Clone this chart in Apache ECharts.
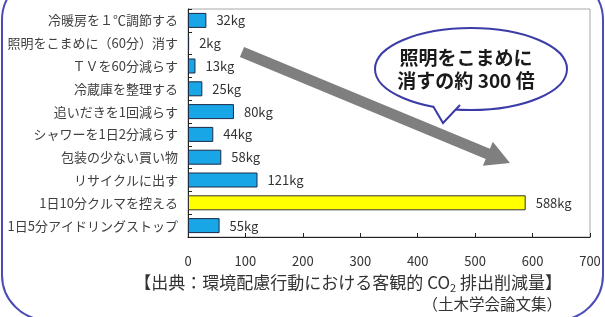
<!DOCTYPE html>
<html>
<head>
<meta charset="utf-8">
<script src="https://cdn.jsdelivr.net/npm/echarts@6/dist/echarts.min.js"></script>
<style>
    html,body{margin:0;padding:0;background:#fff;}
    #main{width:605px;height:317px;}
</style>
</head>
<body>
<div id="main"></div>
<script>
// 行動ごとの CO2 削減量 (kg/年)
var categories = ['冷暖房を１℃調節する', '照明をこまめに（60分）消す', 'ＴＶを60分減らす', '冷蔵庫を整理する',
    '追いだきを1回減らす', 'シャワーを1日2分減らす', '包装の少ない買い物', 'リサイクルに出す',
    '1日10分クルマを控える', '1日5分アイドリングストップ'];
var values = [32, 2, 13, 25, 80, 44, 58, 121, 588, 55];
var highlight = '1日10分クルマを控える';
var xTicks = [0, 100, 200, 300, 400, 500, 600, 700];

var font = '"Noto Sans CJK JP", "Noto Sans", sans-serif';
var chart = echarts.init(document.getElementById('main'));

// 矢印 (装飾)
var tail = [242, 52], tip = [510, 163];
var dx = tip[0] - tail[0], dy = tip[1] - tail[1];
var len = Math.sqrt(dx * dx + dy * dy);
var ux = dx / len, uy = dy / len, nx = -uy, ny = ux;
var bx = tip[0] - 24 * ux, by = tip[1] - 24 * uy;
var arrowPts = [
    [tail[0] + 5.5 * nx, tail[1] + 5.5 * ny],
    [bx + 5.5 * nx, by + 5.5 * ny],
    [bx + 13 * nx, by + 13 * ny],
    tip,
    [bx - 13 * nx, by - 13 * ny],
    [bx - 5.5 * nx, by - 5.5 * ny],
    [tail[0] - 5.5 * nx, tail[1] - 5.5 * ny]
];

var option = {
    animation: false,
    textStyle: {fontFamily: font},
    grid: {
        left: 188, right: 15, top: 9, bottom: 80,
        show: true, borderColor: '#a8a8a8', borderWidth: 1, backgroundColor: 'transparent'
    },
    xAxis: {
        type: 'value', min: 0, max: 700, interval: 100,
        axisLine: {show: true, lineStyle: {color: '#222', width: 1}},
        axisTick: {show: true, inside: true, length: 4, lineStyle: {color: '#222'}},
        axisLabel: {color: '#333', fontSize: 13, margin: 18, fontFamily: font,
            formatter: function (v) { return xTicks.indexOf(v) >= 0 ? String(v) : ''; }},
        splitLine: {show: false}
    },
    yAxis: {
        type: 'category', inverse: true, data: categories,
        axisLine: {show: true, lineStyle: {color: '#222', width: 1}},
        axisTick: {show: true, inside: true, length: 4, lineStyle: {color: '#222'}},
        axisLabel: {color: '#404040', fontSize: 13, margin: 10, fontFamily: font}
    },
    series: [{
        type: 'bar',
        barWidth: 15,
        data: values.map(function (v, i) {
            var hot = categories[i] === highlight;
            return {
                value: v,
                itemStyle: {
                    color: hot ? '#ffff00' : '#19a6e6',
                    borderColor: hot ? '#333' : '#1c2a48',
                    borderWidth: 1
                }
            };
        }),
        label: {
            show: true, position: 'right', distance: 10,
            color: '#333', fontSize: 13, fontFamily: font,
            formatter: '{c}kg'
        }
    }],
    title: [{
        right: 38, top: 268,
        text: '{a|【出典：環境配慮行動における客観的 CO}{s|2}{a| 排出削減量】}',
        textStyle: {
            fontWeight: 'normal',
            rich: {
                a: {fontSize: 17, color: '#333', fontWeight: 'normal', fontFamily: font},
                s: {fontSize: 11, color: '#333', fontWeight: 'normal', fontFamily: font, padding: [9, 0, 0, 0]}
            }
        }
    }, {
        right: 38, top: 291,
        text: '（土木学会論文集）',
        textStyle: {fontSize: 15.5, fontWeight: 'normal', color: '#333', fontFamily: font}
    }],
    graphic: [
        {
            type: 'rect', silent: true, z: -1,
            shape: {x: 2, y: -25, width: 601, height: 345, r: 45},
            style: {fill: 'none', stroke: '#4c4cb8', lineWidth: 2}
        },
        {
            type: 'polygon', silent: true, z: 10,
            shape: {points: arrowPts},
            style: {fill: '#7f7f7f'}
        },
        {
            type: 'ellipse', silent: true, z: 11,
            shape: {cx: 471, cy: 69, rx: 96, ry: 41},
            style: {fill: '#fff', stroke: '#3c3ca8', lineWidth: 2}
        },
        {
            type: 'polygon', silent: true, z: 12,
            shape: {points: [[433, 106], [443, 123], [460, 104]]},
            style: {fill: '#fff'}
        },
        {
            type: 'polyline', silent: true, z: 13,
            shape: {points: [[433, 106], [443, 123], [460, 105]]},
            style: {stroke: '#3c3ca8', lineWidth: 2, fill: 'none'}
        },
        {
            type: 'text', silent: true, z: 14,
            x: 466, y: 58,
            style: {text: '照明をこまめに', fill: '#1a1a1a', fontSize: 19, fontWeight: 'bold',
                fontFamily: font, align: 'center', verticalAlign: 'middle'}
        },
        {
            type: 'text', silent: true, z: 14,
            x: 466, y: 81,
            style: {text: '消すの約 300 倍', fill: '#1a1a1a', fontSize: 19, fontWeight: 'bold',
                fontFamily: font, align: 'center', verticalAlign: 'middle'}
        }
    ]
};
chart.setOption(option);
</script>
</body>
</html>
